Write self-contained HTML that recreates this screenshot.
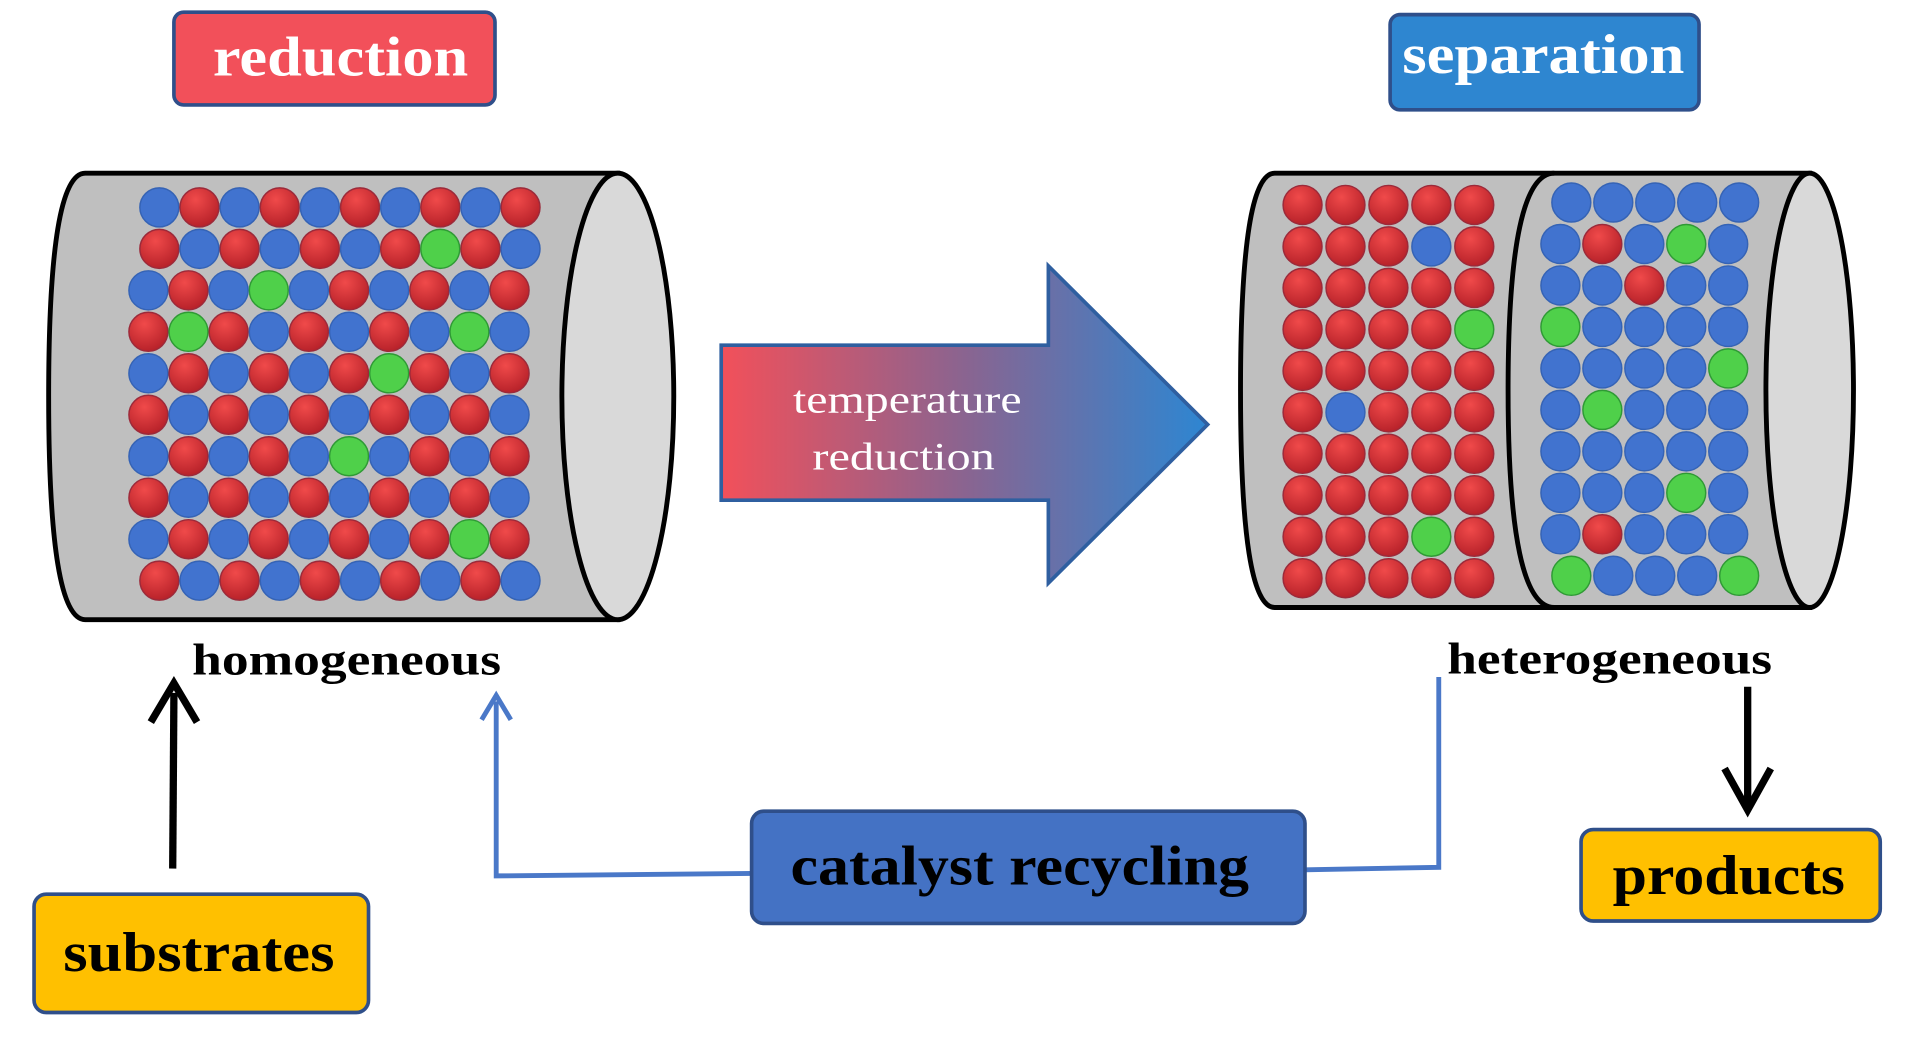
<!DOCTYPE html>
<html><head><meta charset="utf-8"><style>
html,body{margin:0;padding:0;background:#fff;width:1907px;height:1043px;overflow:hidden}
svg{display:block}
text{font-family:"Liberation Serif",serif;font-weight:bold}
</style></head><body>
<svg id="s" width="1907" height="1043" viewBox="0 0 1568 855" preserveAspectRatio="none" xmlns="http://www.w3.org/2000/svg">
<defs>
<radialGradient id="rd" cx="0.4" cy="0.3" r="0.7"><stop offset="0" stop-color="#f04a4a"/><stop offset="1" stop-color="#b8222a"/></radialGradient>
<linearGradient id="ag" x1="0" x2="1" y1="0" y2="0"><stop offset="0" stop-color="#f2505a"/><stop offset="0.5" stop-color="#8a6490"/><stop offset="1" stop-color="#2d86d2"/></linearGradient>
</defs>
<rect x="143" y="10" width="264" height="76" rx="8" fill="#f2505a" stroke="#2f4f8a" stroke-width="3"/>
<text x="175" y="62" font-size="46" fill="#fff" textLength="210" lengthAdjust="spacingAndGlyphs">reduction</text>
<rect x="1143" y="12" width="254" height="78" rx="8" fill="#2e86d0" stroke="#2f4f8a" stroke-width="3"/>
<text x="1153" y="60" font-size="46" fill="#fff" textLength="232" lengthAdjust="spacingAndGlyphs">separation</text>
<path d="M70 142 L508 142 L508 508 L70 508 Q40 508 40 325 Q40 142 70 142 Z" fill="#bfbfbf" stroke="#000" stroke-width="4"/>
<ellipse cx="508" cy="325" rx="46" ry="183" fill="#d9d9d9" stroke="#000" stroke-width="4"/>
<path d="M1048 142 L1488 142 L1488 498 L1048 498 Q1020 498 1020 320 Q1020 142 1048 142 Z" fill="#bfbfbf" stroke="#000" stroke-width="4"/>
<path d="M1278 142 Q1240 142 1240 320 Q1240 498 1278 498" fill="none" stroke="#000" stroke-width="4"/>
<ellipse cx="1488" cy="320" rx="36" ry="178" fill="#d9d9d9" stroke="#000" stroke-width="4"/>
<g id="balls"></g>
<path d="M593 283 L862 283 L862 218 L993 348 L862 478 L862 410 L593 410 Z" fill="url(#ag)" stroke="#2f5fa0" stroke-width="3"/>
<text x="652" y="338" font-size="32" style="font-weight:normal" fill="#fff" textLength="188" lengthAdjust="spacingAndGlyphs">temperature</text>
<text x="668" y="385" font-size="32" style="font-weight:normal" fill="#fff" textLength="150" lengthAdjust="spacingAndGlyphs">reduction</text>
<text x="158" y="553" font-size="36" fill="#000" textLength="254" lengthAdjust="spacingAndGlyphs">homogeneous</text>
<text x="1190" y="552" font-size="36" fill="#000" textLength="267" lengthAdjust="spacingAndGlyphs">heterogeneous</text>
<line x1="142" y1="712" x2="143" y2="568" stroke="#000" stroke-width="6"/>
<path d="M124 592 L143 560 L162 592" fill="none" stroke="#000" stroke-width="6"/>
<line x1="1437" y1="563" x2="1437" y2="660" stroke="#000" stroke-width="6"/>
<path d="M1418 630 L1437 664 L1456 630" fill="none" stroke="#000" stroke-width="6"/>
<polyline points="618,716 408,718 408,575" fill="none" stroke="#4a78c8" stroke-width="4"/>
<path d="M396 590 L408 570 L420 590" fill="none" stroke="#4a78c8" stroke-width="4"/>
<polyline points="1073,713 1183,711 1183,555" fill="none" stroke="#4a78c8" stroke-width="4"/>
<rect x="618" y="665" width="455" height="92" rx="10" fill="#4472c4" stroke="#2f4f8a" stroke-width="3"/>
<text x="650" y="725" font-size="46" fill="#000" textLength="377" lengthAdjust="spacingAndGlyphs">catalyst recycling</text>
<rect x="28" y="733" width="275" height="97" rx="10" fill="#ffc000" stroke="#2f4f8a" stroke-width="3"/>
<text x="52" y="796" font-size="46" fill="#000" textLength="223" lengthAdjust="spacingAndGlyphs">substrates</text>
<rect x="1300" y="680" width="246" height="75" rx="10" fill="#ffc000" stroke="#2f4f8a" stroke-width="3"/>
<text x="1326" y="733" font-size="46" fill="#000" textLength="191" lengthAdjust="spacingAndGlyphs">products</text>
</svg>
<script>
var g=document.getElementById('balls'),ns='http://www.w3.org/2000/svg';
function ball(x,y,c){var e=document.createElementNS(ns,'circle');e.setAttribute('cx',x);e.setAttribute('cy',y);e.setAttribute('r',16);
var f={B:'#4173cf',R:'url(#rd)',G:'#4fd04a'}[c];var s={B:'#3563b5',R:'#9c2a3a',G:'#2f9a35'}[c];
e.setAttribute('fill',f);e.setAttribute('stroke',s);e.setAttribute('stroke-width',1.2);g.appendChild(e);}
var L=["BRBRBRBRBR","RBRBRBRGRB","BRBGBRBRBR","RGRBRBRBGB","BRBRBRGRBR","RBRBRBRBRB","BRBRBGBRBR","RBRBRBRBRB","BRBRBRBRGR","RBRBRBRBRB"];
for(var r=0;r<10;r++){var x0=(r==0||r==1||r==9)?131:122;for(var c=0;c<10;c++)ball(x0+c*33,170+r*34,L[r][c]);}
var A=["RRRRR","RRRBR","RRRRR","RRRRG","RRRRR","RBRRR","RRRRR","RRRRR","RRRGR","RRRRR"];
for(var r=0;r<10;r++)for(var c=0;c<5;c++)ball(1071+c*35.3,168+r*34,A[r][c]);
var B=["BBBBB","BRBGB","BBRBB","GBBBB","BBBBG","BGBBB","BBBBB","BBBGB","BRBBB","GBBBG"];
for(var r=0;r<10;r++){var x0=(r==0||r==9)?1292:1283;for(var c=0;c<5;c++)ball(x0+c*34.5,166+r*34,B[r][c]);}
</script>
</body></html>
